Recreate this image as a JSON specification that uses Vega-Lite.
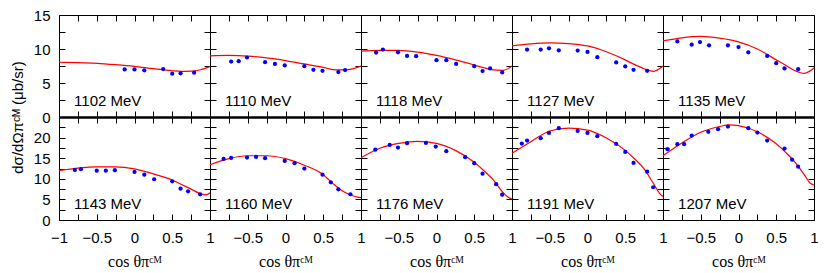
{
"$schema": "https://vega.github.io/schema/vega-lite/v6.json",
"padding": {"left": 10, "top": 8, "right": 0, "bottom": 0},
"background": "white",
"config": {
  "view": {"stroke": null},
  "font": "Liberation Sans",
  "axis": {"tickSize": -6, "labelFontSize": 15, "labelFont": "Liberation Sans", "labelColor": "black", "domainColor": "black", "tickColor": "black", "labelPadding": 15, "labelFlush": false, "labelOverlap": false, "grid": false, "titleFontWeight": "normal", "titleColor": "black", "domainWidth": 1, "tickWidth": 1}
},
"datasets": {
  "pts": [
    {"E":1102,"x":-0.13,"y":7.0},{"E":1102,"x":0.0,"y":7.0},{"E":1102,"x":0.13,"y":6.86},{"E":1102,"x":0.38,"y":7.05},{"E":1102,"x":0.5,"y":6.37},{"E":1102,"x":0.61,"y":6.42},{"E":1102,"x":0.79,"y":6.52},
    {"E":1110,"x":-0.72,"y":8.16},{"E":1110,"x":-0.62,"y":8.2},{"E":1110,"x":-0.51,"y":8.75},{"E":1110,"x":-0.27,"y":8.06},{"E":1110,"x":-0.14,"y":7.81},{"E":1110,"x":-0.01,"y":7.58},{"E":1110,"x":0.25,"y":7.48},{"E":1110,"x":0.37,"y":6.94},{"E":1110,"x":0.49,"y":6.79},{"E":1110,"x":0.7,"y":6.6},{"E":1110,"x":0.79,"y":6.9},
    {"E":1118,"x":-0.8,"y":9.47},{"E":1118,"x":-0.71,"y":9.91},{"E":1118,"x":-0.51,"y":9.52},{"E":1118,"x":-0.39,"y":8.98},{"E":1118,"x":-0.27,"y":8.94},{"E":1118,"x":0.0,"y":8.35},{"E":1118,"x":0.13,"y":8.35},{"E":1118,"x":0.26,"y":7.81},{"E":1118,"x":0.5,"y":7.48},{"E":1118,"x":0.61,"y":6.75},{"E":1118,"x":0.71,"y":7.14},{"E":1118,"x":0.87,"y":6.56},
    {"E":1127,"x":-0.8,"y":9.91},{"E":1127,"x":-0.62,"y":9.91},{"E":1127,"x":-0.51,"y":10.1},{"E":1127,"x":-0.38,"y":9.81},{"E":1127,"x":-0.13,"y":9.77},{"E":1127,"x":0.0,"y":9.56},{"E":1127,"x":0.13,"y":8.79},{"E":1127,"x":0.38,"y":8.02},{"E":1127,"x":0.5,"y":7.43},{"E":1127,"x":0.61,"y":6.94},{"E":1127,"x":0.79,"y":6.79},
    {"E":1135,"x":-0.81,"y":11.12},{"E":1135,"x":-0.62,"y":10.64},{"E":1135,"x":-0.51,"y":11.02},{"E":1135,"x":-0.39,"y":10.54},{"E":1135,"x":-0.14,"y":10.54},{"E":1135,"x":0.0,"y":10.29},{"E":1135,"x":0.13,"y":9.52},{"E":1135,"x":0.38,"y":8.98},{"E":1135,"x":0.5,"y":7.92},{"E":1135,"x":0.61,"y":7.14},{"E":1135,"x":0.79,"y":7.04},
    {"E":1143,"x":-0.79,"y":12.15},{"E":1143,"x":-0.71,"y":12.32},{"E":1143,"x":-0.5,"y":11.98},{"E":1143,"x":-0.38,"y":11.98},{"E":1143,"x":-0.26,"y":12.08},{"E":1143,"x":0.0,"y":11.66},{"E":1143,"x":0.13,"y":11.0},{"E":1143,"x":0.26,"y":9.89},{"E":1143,"x":0.5,"y":9.4},{"E":1143,"x":0.61,"y":7.61},{"E":1143,"x":0.71,"y":6.97},{"E":1143,"x":0.87,"y":6.24},
    {"E":1160,"x":-0.82,"y":14.82},{"E":1160,"x":-0.72,"y":15.07},{"E":1160,"x":-0.51,"y":15.14},{"E":1160,"x":-0.39,"y":15.31},{"E":1160,"x":-0.27,"y":14.99},{"E":1160,"x":-0.01,"y":14.34},{"E":1160,"x":0.12,"y":13.78},{"E":1160,"x":0.25,"y":12.47},{"E":1160,"x":0.49,"y":11.0},{"E":1160,"x":0.6,"y":9.16},{"E":1160,"x":0.7,"y":7.46},{"E":1160,"x":0.86,"y":6.25},
    {"E":1176,"x":-0.81,"y":17.08},{"E":1176,"x":-0.62,"y":18.23},{"E":1176,"x":-0.51,"y":17.57},{"E":1176,"x":-0.39,"y":18.64},{"E":1176,"x":-0.14,"y":18.71},{"E":1176,"x":-0.01,"y":17.81},{"E":1176,"x":0.13,"y":16.7},{"E":1176,"x":0.38,"y":15.24},{"E":1176,"x":0.5,"y":13.78},{"E":1176,"x":0.61,"y":11.25},{"E":1176,"x":0.79,"y":8.68},{"E":1176,"x":0.87,"y":6.15},
    {"E":1191,"x":-0.87,"y":18.54},{"E":1191,"x":-0.8,"y":19.27},{"E":1191,"x":-0.62,"y":19.85},{"E":1191,"x":-0.51,"y":21.14},{"E":1191,"x":-0.38,"y":22.28},{"E":1191,"x":-0.13,"y":21.63},{"E":1191,"x":0.0,"y":21.14},{"E":1191,"x":0.13,"y":20.34},{"E":1191,"x":0.38,"y":18.47},{"E":1191,"x":0.5,"y":16.52},{"E":1191,"x":0.61,"y":13.85},{"E":1191,"x":0.79,"y":11.74},{"E":1191,"x":0.87,"y":7.95},
    {"E":1207,"x":-0.94,"y":17.18},{"E":1207,"x":-0.81,"y":18.4},{"E":1207,"x":-0.72,"y":18.4},{"E":1207,"x":-0.62,"y":20.49},{"E":1207,"x":-0.4,"y":21.39},{"E":1207,"x":-0.27,"y":22.04},{"E":1207,"x":-0.14,"y":22.67},{"E":1207,"x":0.13,"y":22.28},{"E":1207,"x":0.25,"y":21.22},{"E":1207,"x":0.38,"y":19.27},{"E":1207,"x":0.61,"y":17.33},{"E":1207,"x":0.71,"y":14.65},{"E":1207,"x":0.79,"y":12.95}
  ],
  "curve": [
    {"E":1102,"x":-1,"y":8.05},{"E":1102,"x":-0.75,"y":8.0},{"E":1102,"x":-0.5,"y":7.9},{"E":1102,"x":-0.25,"y":7.7},{"E":1102,"x":0,"y":7.45},{"E":1102,"x":0.25,"y":7.1},{"E":1102,"x":0.5,"y":6.8},{"E":1102,"x":0.625,"y":6.72},{"E":1102,"x":0.75,"y":6.75},{"E":1102,"x":0.875,"y":6.95},{"E":1102,"x":1,"y":7.4},
    {"E":1110,"x":-1,"y":9.0},{"E":1110,"x":-0.75,"y":9.05},{"E":1110,"x":-0.5,"y":8.95},{"E":1110,"x":-0.25,"y":8.7},{"E":1110,"x":0,"y":8.3},{"E":1110,"x":0.25,"y":7.8},{"E":1110,"x":0.5,"y":7.3},{"E":1110,"x":0.625,"y":6.98},{"E":1110,"x":0.75,"y":6.92},{"E":1110,"x":0.875,"y":7.05},{"E":1110,"x":1,"y":7.5},
    {"E":1118,"x":-1,"y":9.7},{"E":1118,"x":-0.75,"y":9.8},{"E":1118,"x":-0.5,"y":9.8},{"E":1118,"x":-0.25,"y":9.55},{"E":1118,"x":0,"y":9.05},{"E":1118,"x":0.25,"y":8.4},{"E":1118,"x":0.5,"y":7.65},{"E":1118,"x":0.625,"y":7.25},{"E":1118,"x":0.75,"y":6.92},{"E":1118,"x":0.875,"y":6.85},{"E":1118,"x":1,"y":7.5},
    {"E":1127,"x":-1,"y":10.45},{"E":1127,"x":-0.75,"y":10.75},{"E":1127,"x":-0.5,"y":10.9},{"E":1127,"x":-0.25,"y":10.8},{"E":1127,"x":0,"y":10.45},{"E":1127,"x":0.25,"y":9.6},{"E":1127,"x":0.5,"y":8.4},{"E":1127,"x":0.625,"y":7.7},{"E":1127,"x":0.75,"y":7.1},{"E":1127,"x":0.875,"y":6.72},{"E":1127,"x":1,"y":7.5},
    {"E":1135,"x":-1,"y":11.2},{"E":1135,"x":-0.75,"y":11.65},{"E":1135,"x":-0.5,"y":11.85},{"E":1135,"x":-0.25,"y":11.6},{"E":1135,"x":0,"y":11.05},{"E":1135,"x":0.25,"y":10.0},{"E":1135,"x":0.5,"y":8.4},{"E":1135,"x":0.625,"y":7.6},{"E":1135,"x":0.75,"y":6.8},{"E":1135,"x":0.875,"y":6.42},{"E":1135,"x":1,"y":7.2},
    {"E":1143,"x":-1,"y":12.0},{"E":1143,"x":-0.75,"y":12.6},{"E":1143,"x":-0.5,"y":12.9},{"E":1143,"x":-0.25,"y":12.9},{"E":1143,"x":0,"y":12.4},{"E":1143,"x":0.25,"y":11.2},{"E":1143,"x":0.5,"y":9.7},{"E":1143,"x":0.625,"y":8.6},{"E":1143,"x":0.75,"y":7.5},{"E":1143,"x":0.875,"y":6.35},{"E":1143,"x":0.95,"y":6.08},{"E":1143,"x":1,"y":6.6},
    {"E":1160,"x":-1,"y":13.4},{"E":1160,"x":-0.75,"y":14.9},{"E":1160,"x":-0.5,"y":15.6},{"E":1160,"x":-0.25,"y":15.6},{"E":1160,"x":0,"y":14.9},{"E":1160,"x":0.25,"y":13.3},{"E":1160,"x":0.5,"y":11.0},{"E":1160,"x":0.625,"y":8.9},{"E":1160,"x":0.75,"y":7.1},{"E":1160,"x":0.875,"y":6.0},{"E":1160,"x":0.95,"y":5.55},{"E":1160,"x":1,"y":5.45},
    {"E":1176,"x":-1,"y":15.1},{"E":1176,"x":-0.75,"y":17.4},{"E":1176,"x":-0.5,"y":18.6},{"E":1176,"x":-0.25,"y":19.1},{"E":1176,"x":0,"y":18.6},{"E":1176,"x":0.25,"y":16.9},{"E":1176,"x":0.5,"y":14.0},{"E":1176,"x":0.625,"y":12.0},{"E":1176,"x":0.75,"y":9.8},{"E":1176,"x":0.875,"y":6.8},{"E":1176,"x":0.95,"y":5.5},{"E":1176,"x":1,"y":5.1},
    {"E":1191,"x":-1,"y":16.2},{"E":1191,"x":-0.75,"y":19.0},{"E":1191,"x":-0.5,"y":21.6},{"E":1191,"x":-0.25,"y":22.3},{"E":1191,"x":0,"y":21.8},{"E":1191,"x":0.25,"y":19.9},{"E":1191,"x":0.5,"y":16.9},{"E":1191,"x":0.625,"y":14.8},{"E":1191,"x":0.75,"y":12.4},{"E":1191,"x":0.875,"y":8.8},{"E":1191,"x":0.95,"y":6.6},{"E":1191,"x":1,"y":5.7},
    {"E":1207,"x":-1,"y":15.6},{"E":1207,"x":-0.75,"y":18.7},{"E":1207,"x":-0.5,"y":21.3},{"E":1207,"x":-0.25,"y":22.7},{"E":1207,"x":-0.125,"y":23.1},{"E":1207,"x":0,"y":22.9},{"E":1207,"x":0.25,"y":21.4},{"E":1207,"x":0.5,"y":18.5},{"E":1207,"x":0.625,"y":16.4},{"E":1207,"x":0.75,"y":14.0},{"E":1207,"x":0.875,"y":10.9},{"E":1207,"x":0.95,"y":8.9},{"E":1207,"x":1,"y":8.5}
  ]
},
"columns": 5,
"spacing": 0,
"bounds": "flush",
"concat": [
  {"width":151,"height":102,"resolve":{"axis":{"x":"independent","y":"independent"}},"layer":[
   {"data":{"name":"curve"},"transform":[{"filter":"datum.E==1102"}],"mark":{"type":"line","color":"#ff0000","strokeWidth":1.2,"interpolate":"monotone"},
    "encoding":{"x":{"field":"x","type":"quantitative","scale":{"domain":[-1,1],"nice":false,"zero":false},"axis":{"orient":"bottom","values":[-1,-0.75,-0.5,-0.25,0,0.25,0.5,0.75,1],"labels":false,"title":null,"domainWidth":2}},
     "y":{"field":"y","type":"quantitative","scale":{"domain":[0,15],"nice":false},"axis":{"orient":"left","values":[0,2.5,5,7.5,10,12.5,15],"title":null,"labelExpr":"datum.value % 5 == 0 ? format(datum.value,'d') : ''"}}}},
   {"data":{"name":"pts"},"transform":[{"filter":"datum.E==1102"}],"mark":{"type":"point","filled":true,"color":"#0000ff","size":18,"opacity":1},
    "encoding":{"x":{"field":"x","type":"quantitative","scale":{"domain":[-1,1],"nice":false,"zero":false},"axis":{"orient":"top","values":[-1,-0.75,-0.5,-0.25,0,0.25,0.5,0.75,1],"labels":false,"title":null}},
     "y":{"field":"y","type":"quantitative","scale":{"domain":[0,15],"nice":false},"axis":{"orient":"right","values":[0,2.5,5,7.5,10,12.5,15],"labels":false,"title":null}}}},
   {"data":{"values":[{"t":"1102 MeV"}]},"mark":{"type":"text","align":"left","baseline":"middle","fontSize":15,"font":"Liberation Sans","color":"black"},
    "encoding":{"x":{"datum":-0.8,"type":"quantitative","axis":null},"y":{"datum":2.4,"type":"quantitative","axis":null},"text":{"field":"t"}}}
  ]},
  {"width":151,"height":102,"resolve":{"axis":{"x":"independent","y":"independent"}},"layer":[
   {"data":{"name":"curve"},"transform":[{"filter":"datum.E==1110"}],"mark":{"type":"line","color":"#ff0000","strokeWidth":1.2,"interpolate":"monotone"},
    "encoding":{"x":{"field":"x","type":"quantitative","scale":{"domain":[-1,1],"nice":false,"zero":false},"axis":{"orient":"bottom","values":[-1,-0.75,-0.5,-0.25,0,0.25,0.5,0.75,1],"labels":false,"title":null,"domainWidth":2}},
     "y":{"field":"y","type":"quantitative","scale":{"domain":[0,15],"nice":false},"axis":{"orient":"left","values":[0,2.5,5,7.5,10,12.5,15],"title":null,"labels":false}}}},
   {"data":{"name":"pts"},"transform":[{"filter":"datum.E==1110"}],"mark":{"type":"point","filled":true,"color":"#0000ff","size":18,"opacity":1},
    "encoding":{"x":{"field":"x","type":"quantitative","scale":{"domain":[-1,1],"nice":false,"zero":false},"axis":{"orient":"top","values":[-1,-0.75,-0.5,-0.25,0,0.25,0.5,0.75,1],"labels":false,"title":null}},
     "y":{"field":"y","type":"quantitative","scale":{"domain":[0,15],"nice":false},"axis":{"orient":"right","values":[0,2.5,5,7.5,10,12.5,15],"labels":false,"title":null}}}},
   {"data":{"values":[{"t":"1110 MeV"}]},"mark":{"type":"text","align":"left","baseline":"middle","fontSize":15,"font":"Liberation Sans","color":"black"},
    "encoding":{"x":{"datum":-0.8,"type":"quantitative","axis":null},"y":{"datum":2.4,"type":"quantitative","axis":null},"text":{"field":"t"}}}
  ]},
  {"width":151,"height":102,"resolve":{"axis":{"x":"independent","y":"independent"}},"layer":[
   {"data":{"name":"curve"},"transform":[{"filter":"datum.E==1118"}],"mark":{"type":"line","color":"#ff0000","strokeWidth":1.2,"interpolate":"monotone"},
    "encoding":{"x":{"field":"x","type":"quantitative","scale":{"domain":[-1,1],"nice":false,"zero":false},"axis":{"orient":"bottom","values":[-1,-0.75,-0.5,-0.25,0,0.25,0.5,0.75,1],"labels":false,"title":null,"domainWidth":2}},
     "y":{"field":"y","type":"quantitative","scale":{"domain":[0,15],"nice":false},"axis":{"orient":"left","values":[0,2.5,5,7.5,10,12.5,15],"title":null,"labels":false}}}},
   {"data":{"name":"pts"},"transform":[{"filter":"datum.E==1118"}],"mark":{"type":"point","filled":true,"color":"#0000ff","size":18,"opacity":1},
    "encoding":{"x":{"field":"x","type":"quantitative","scale":{"domain":[-1,1],"nice":false,"zero":false},"axis":{"orient":"top","values":[-1,-0.75,-0.5,-0.25,0,0.25,0.5,0.75,1],"labels":false,"title":null}},
     "y":{"field":"y","type":"quantitative","scale":{"domain":[0,15],"nice":false},"axis":{"orient":"right","values":[0,2.5,5,7.5,10,12.5,15],"labels":false,"title":null}}}},
   {"data":{"values":[{"t":"1118 MeV"}]},"mark":{"type":"text","align":"left","baseline":"middle","fontSize":15,"font":"Liberation Sans","color":"black"},
    "encoding":{"x":{"datum":-0.8,"type":"quantitative","axis":null},"y":{"datum":2.4,"type":"quantitative","axis":null},"text":{"field":"t"}}}
  ]},
  {"width":151,"height":102,"resolve":{"axis":{"x":"independent","y":"independent"}},"layer":[
   {"data":{"name":"curve"},"transform":[{"filter":"datum.E==1127"}],"mark":{"type":"line","color":"#ff0000","strokeWidth":1.2,"interpolate":"monotone"},
    "encoding":{"x":{"field":"x","type":"quantitative","scale":{"domain":[-1,1],"nice":false,"zero":false},"axis":{"orient":"bottom","values":[-1,-0.75,-0.5,-0.25,0,0.25,0.5,0.75,1],"labels":false,"title":null,"domainWidth":2}},
     "y":{"field":"y","type":"quantitative","scale":{"domain":[0,15],"nice":false},"axis":{"orient":"left","values":[0,2.5,5,7.5,10,12.5,15],"title":null,"labels":false}}}},
   {"data":{"name":"pts"},"transform":[{"filter":"datum.E==1127"}],"mark":{"type":"point","filled":true,"color":"#0000ff","size":18,"opacity":1},
    "encoding":{"x":{"field":"x","type":"quantitative","scale":{"domain":[-1,1],"nice":false,"zero":false},"axis":{"orient":"top","values":[-1,-0.75,-0.5,-0.25,0,0.25,0.5,0.75,1],"labels":false,"title":null}},
     "y":{"field":"y","type":"quantitative","scale":{"domain":[0,15],"nice":false},"axis":{"orient":"right","values":[0,2.5,5,7.5,10,12.5,15],"labels":false,"title":null}}}},
   {"data":{"values":[{"t":"1127 MeV"}]},"mark":{"type":"text","align":"left","baseline":"middle","fontSize":15,"font":"Liberation Sans","color":"black"},
    "encoding":{"x":{"datum":-0.8,"type":"quantitative","axis":null},"y":{"datum":2.4,"type":"quantitative","axis":null},"text":{"field":"t"}}}
  ]},
  {"width":151,"height":102,"resolve":{"axis":{"x":"independent","y":"independent"}},"layer":[
   {"data":{"name":"curve"},"transform":[{"filter":"datum.E==1135"}],"mark":{"type":"line","color":"#ff0000","strokeWidth":1.2,"interpolate":"monotone"},
    "encoding":{"x":{"field":"x","type":"quantitative","scale":{"domain":[-1,1],"nice":false,"zero":false},"axis":{"orient":"bottom","values":[-1,-0.75,-0.5,-0.25,0,0.25,0.5,0.75,1],"labels":false,"title":null,"domainWidth":2}},
     "y":{"field":"y","type":"quantitative","scale":{"domain":[0,15],"nice":false},"axis":{"orient":"left","values":[0,2.5,5,7.5,10,12.5,15],"title":null,"labels":false}}}},
   {"data":{"name":"pts"},"transform":[{"filter":"datum.E==1135"}],"mark":{"type":"point","filled":true,"color":"#0000ff","size":18,"opacity":1},
    "encoding":{"x":{"field":"x","type":"quantitative","scale":{"domain":[-1,1],"nice":false,"zero":false},"axis":{"orient":"top","values":[-1,-0.75,-0.5,-0.25,0,0.25,0.5,0.75,1],"labels":false,"title":null}},
     "y":{"field":"y","type":"quantitative","scale":{"domain":[0,15],"nice":false},"axis":{"orient":"right","values":[0,2.5,5,7.5,10,12.5,15],"labels":false,"title":null}}}},
   {"data":{"values":[{"t":"1135 MeV"}]},"mark":{"type":"text","align":"left","baseline":"middle","fontSize":15,"font":"Liberation Sans","color":"black"},
    "encoding":{"x":{"datum":-0.8,"type":"quantitative","axis":null},"y":{"datum":2.4,"type":"quantitative","axis":null},"text":{"field":"t"}}}
  ]},
  {"width":151,"height":103,"resolve":{"axis":{"x":"independent","y":"independent"}},"layer":[
   {"data":{"name":"curve"},"transform":[{"filter":"datum.E==1143"}],"mark":{"type":"line","color":"#ff0000","strokeWidth":1.2,"interpolate":"monotone"},
    "encoding":{"x":{"field":"x","type":"quantitative","scale":{"domain":[-1,1],"nice":false,"zero":false},"axis":{"orient":"bottom","values":[-1,-0.75,-0.5,-0.25,0,0.25,0.5,0.75,1],"labelPadding":16,"labelExpr":"(datum.value*2)%1==0 ? format(datum.value,'~g') : ''","title":"cos θπᶜᴹ","titleFont":"Liberation Serif","titleFontSize":16,"titlePadding":8}},
     "y":{"field":"y","type":"quantitative","scale":{"domain":[0,25],"nice":false},"axis":{"orient":"left","values":[0,2.5,5,7.5,10,12.5,15,17.5,20,22.5],"labelExpr":"datum.value % 5 == 0 ? format(datum.value,'d') : ''","title":"dσ/dΩπᶜᴹ (μb/sr)","titleY":0,"titleAngle":-90,"titleAlign":"center","titleBaseline":"bottom","titleFont":"Liberation Sans","titleFontSize":15,"titlePadding":8}}}},
   {"data":{"name":"pts"},"transform":[{"filter":"datum.E==1143"}],"mark":{"type":"point","filled":true,"color":"#0000ff","size":18,"opacity":1},
    "encoding":{"x":{"field":"x","type":"quantitative","scale":{"domain":[-1,1],"nice":false,"zero":false},"axis":{"orient":"top","values":[-1,-0.75,-0.5,-0.25,0,0.25,0.5,0.75,1],"labels":false,"title":null,"domainWidth":2}},
     "y":{"field":"y","type":"quantitative","scale":{"domain":[0,25],"nice":false},"axis":{"orient":"right","values":[0,2.5,5,7.5,10,12.5,15,17.5,20,22.5],"labels":false,"title":null}}}},
   {"data":{"values":[{"t":"1143 MeV"}]},"mark":{"type":"text","align":"left","baseline":"middle","fontSize":15,"font":"Liberation Sans","color":"black"},
    "encoding":{"x":{"datum":-0.8,"type":"quantitative","axis":null},"y":{"datum":3.8,"type":"quantitative","axis":null},"text":{"field":"t"}}}
  ]},
  {"width":151,"height":103,"resolve":{"axis":{"x":"independent","y":"independent"}},"layer":[
   {"data":{"name":"curve"},"transform":[{"filter":"datum.E==1160"}],"mark":{"type":"line","color":"#ff0000","strokeWidth":1.2,"interpolate":"monotone"},
    "encoding":{"x":{"field":"x","type":"quantitative","scale":{"domain":[-1,1],"nice":false,"zero":false},"axis":{"orient":"bottom","values":[-1,-0.75,-0.5,-0.25,0,0.25,0.5,0.75,1],"labelPadding":16,"labelExpr":"(datum.value*2)%1==0 && datum.value>-1 ? format(datum.value,'~g') : ''","title":"cos θπᶜᴹ","titleFont":"Liberation Serif","titleFontSize":16,"titlePadding":8}},
     "y":{"field":"y","type":"quantitative","scale":{"domain":[0,25],"nice":false},"axis":{"orient":"left","values":[0,2.5,5,7.5,10,12.5,15,17.5,20,22.5],"labels":false,"title":null}}}},
   {"data":{"name":"pts"},"transform":[{"filter":"datum.E==1160"}],"mark":{"type":"point","filled":true,"color":"#0000ff","size":18,"opacity":1},
    "encoding":{"x":{"field":"x","type":"quantitative","scale":{"domain":[-1,1],"nice":false,"zero":false},"axis":{"orient":"top","values":[-1,-0.75,-0.5,-0.25,0,0.25,0.5,0.75,1],"labels":false,"title":null,"domainWidth":2}},
     "y":{"field":"y","type":"quantitative","scale":{"domain":[0,25],"nice":false},"axis":{"orient":"right","values":[0,2.5,5,7.5,10,12.5,15,17.5,20,22.5],"labels":false,"title":null}}}},
   {"data":{"values":[{"t":"1160 MeV"}]},"mark":{"type":"text","align":"left","baseline":"middle","fontSize":15,"font":"Liberation Sans","color":"black"},
    "encoding":{"x":{"datum":-0.8,"type":"quantitative","axis":null},"y":{"datum":3.8,"type":"quantitative","axis":null},"text":{"field":"t"}}}
  ]},
  {"width":151,"height":103,"resolve":{"axis":{"x":"independent","y":"independent"}},"layer":[
   {"data":{"name":"curve"},"transform":[{"filter":"datum.E==1176"}],"mark":{"type":"line","color":"#ff0000","strokeWidth":1.2,"interpolate":"monotone"},
    "encoding":{"x":{"field":"x","type":"quantitative","scale":{"domain":[-1,1],"nice":false,"zero":false},"axis":{"orient":"bottom","values":[-1,-0.75,-0.5,-0.25,0,0.25,0.5,0.75,1],"labelPadding":16,"labelExpr":"(datum.value*2)%1==0 && datum.value>-1 ? format(datum.value,'~g') : ''","title":"cos θπᶜᴹ","titleFont":"Liberation Serif","titleFontSize":16,"titlePadding":8}},
     "y":{"field":"y","type":"quantitative","scale":{"domain":[0,25],"nice":false},"axis":{"orient":"left","values":[0,2.5,5,7.5,10,12.5,15,17.5,20,22.5],"labels":false,"title":null}}}},
   {"data":{"name":"pts"},"transform":[{"filter":"datum.E==1176"}],"mark":{"type":"point","filled":true,"color":"#0000ff","size":18,"opacity":1},
    "encoding":{"x":{"field":"x","type":"quantitative","scale":{"domain":[-1,1],"nice":false,"zero":false},"axis":{"orient":"top","values":[-1,-0.75,-0.5,-0.25,0,0.25,0.5,0.75,1],"labels":false,"title":null,"domainWidth":2}},
     "y":{"field":"y","type":"quantitative","scale":{"domain":[0,25],"nice":false},"axis":{"orient":"right","values":[0,2.5,5,7.5,10,12.5,15,17.5,20,22.5],"labels":false,"title":null}}}},
   {"data":{"values":[{"t":"1176 MeV"}]},"mark":{"type":"text","align":"left","baseline":"middle","fontSize":15,"font":"Liberation Sans","color":"black"},
    "encoding":{"x":{"datum":-0.8,"type":"quantitative","axis":null},"y":{"datum":3.8,"type":"quantitative","axis":null},"text":{"field":"t"}}}
  ]},
  {"width":151,"height":103,"resolve":{"axis":{"x":"independent","y":"independent"}},"layer":[
   {"data":{"name":"curve"},"transform":[{"filter":"datum.E==1191"}],"mark":{"type":"line","color":"#ff0000","strokeWidth":1.2,"interpolate":"monotone"},
    "encoding":{"x":{"field":"x","type":"quantitative","scale":{"domain":[-1,1],"nice":false,"zero":false},"axis":{"orient":"bottom","values":[-1,-0.75,-0.5,-0.25,0,0.25,0.5,0.75,1],"labelPadding":16,"labelExpr":"(datum.value*2)%1==0 && datum.value>-1 ? format(datum.value,'~g') : ''","title":"cos θπᶜᴹ","titleFont":"Liberation Serif","titleFontSize":16,"titlePadding":8}},
     "y":{"field":"y","type":"quantitative","scale":{"domain":[0,25],"nice":false},"axis":{"orient":"left","values":[0,2.5,5,7.5,10,12.5,15,17.5,20,22.5],"labels":false,"title":null}}}},
   {"data":{"name":"pts"},"transform":[{"filter":"datum.E==1191"}],"mark":{"type":"point","filled":true,"color":"#0000ff","size":18,"opacity":1},
    "encoding":{"x":{"field":"x","type":"quantitative","scale":{"domain":[-1,1],"nice":false,"zero":false},"axis":{"orient":"top","values":[-1,-0.75,-0.5,-0.25,0,0.25,0.5,0.75,1],"labels":false,"title":null,"domainWidth":2}},
     "y":{"field":"y","type":"quantitative","scale":{"domain":[0,25],"nice":false},"axis":{"orient":"right","values":[0,2.5,5,7.5,10,12.5,15,17.5,20,22.5],"labels":false,"title":null}}}},
   {"data":{"values":[{"t":"1191 MeV"}]},"mark":{"type":"text","align":"left","baseline":"middle","fontSize":15,"font":"Liberation Sans","color":"black"},
    "encoding":{"x":{"datum":-0.8,"type":"quantitative","axis":null},"y":{"datum":3.8,"type":"quantitative","axis":null},"text":{"field":"t"}}}
  ]},
  {"width":151,"height":103,"resolve":{"axis":{"x":"independent","y":"independent"}},"layer":[
   {"data":{"name":"curve"},"transform":[{"filter":"datum.E==1207"}],"mark":{"type":"line","color":"#ff0000","strokeWidth":1.2,"interpolate":"monotone"},
    "encoding":{"x":{"field":"x","type":"quantitative","scale":{"domain":[-1,1],"nice":false,"zero":false},"axis":{"orient":"bottom","values":[-1,-0.75,-0.5,-0.25,0,0.25,0.5,0.75,1],"labelPadding":16,"labelExpr":"(datum.value*2)%1==0 && datum.value>-1 ? format(datum.value,'~g') : ''","title":"cos θπᶜᴹ","titleFont":"Liberation Serif","titleFontSize":16,"titlePadding":8}},
     "y":{"field":"y","type":"quantitative","scale":{"domain":[0,25],"nice":false},"axis":{"orient":"left","values":[0,2.5,5,7.5,10,12.5,15,17.5,20,22.5],"labels":false,"title":null}}}},
   {"data":{"name":"pts"},"transform":[{"filter":"datum.E==1207"}],"mark":{"type":"point","filled":true,"color":"#0000ff","size":18,"opacity":1},
    "encoding":{"x":{"field":"x","type":"quantitative","scale":{"domain":[-1,1],"nice":false,"zero":false},"axis":{"orient":"top","values":[-1,-0.75,-0.5,-0.25,0,0.25,0.5,0.75,1],"labels":false,"title":null,"domainWidth":2}},
     "y":{"field":"y","type":"quantitative","scale":{"domain":[0,25],"nice":false},"axis":{"orient":"right","values":[0,2.5,5,7.5,10,12.5,15,17.5,20,22.5],"labels":false,"title":null}}}},
   {"data":{"values":[{"t":"1207 MeV"}]},"mark":{"type":"text","align":"left","baseline":"middle","fontSize":15,"font":"Liberation Sans","color":"black"},
    "encoding":{"x":{"datum":-0.8,"type":"quantitative","axis":null},"y":{"datum":3.8,"type":"quantitative","axis":null},"text":{"field":"t"}}}
  ]}
]
}
